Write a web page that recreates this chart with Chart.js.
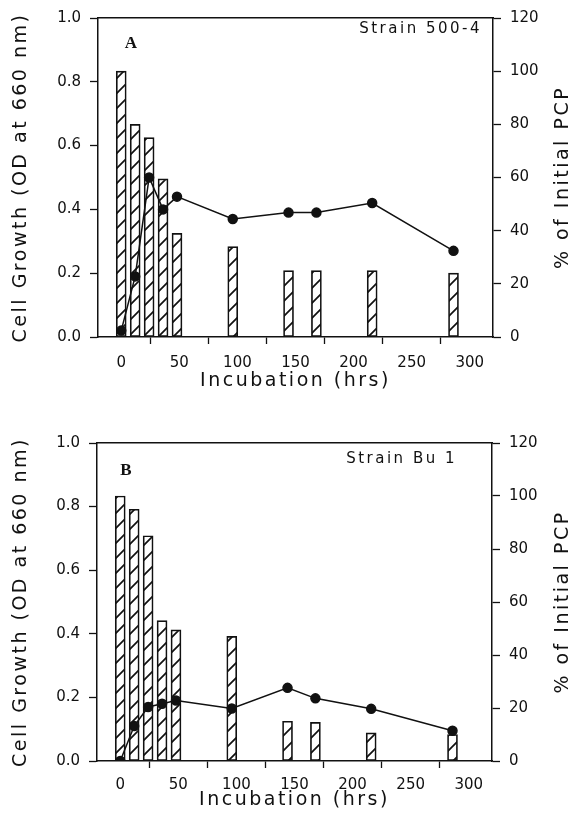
<!DOCTYPE html>
<html>
<head>
<meta charset="utf-8">
<script src="https://cdn.jsdelivr.net/npm/chart.js@4.4.0/dist/chart.umd.min.js"></script>
<style>
  html, body { margin: 0; padding: 0; background: #fff; }
  canvas { display: block; }
</style>
</head>
<body>
<canvas id="chartA" width="575" height="419"></canvas>
<canvas id="chartB" width="575" height="419"></canvas>
<script>
// sampling times (hrs)
const hours = [0, 12, 24, 36, 48, 96, 144, 168, 216, 286];

// panel A - strain 500-4
const pcpA = [100, 80, 75, 59.5, 39, 34, 25, 25, 25, 24];          // % of initial PCP (bars)
const growthA = [0.02, 0.19, 0.50, 0.40, 0.44, 0.37, 0.39, 0.39, 0.42, 0.27]; // OD 660 (line)

// panel B - strain Bu 1
const pcpB = [100, 95, 85, 53, 49.5, 47, 15, 14.6, 10.6, 10];
const growthB = [0.00, 0.11, 0.17, 0.18, 0.19, 0.165, 0.23, 0.197, 0.164, 0.095];

// tick labels
const xTicks = [0, 50, 100, 150, 200, 250, 300];
const odTicks = [0, 0.2, 0.4, 0.6, 0.8, 1.0];
const pcpTicks = [0, 20, 40, 60, 80, 100, 120];

const FONT = '"DejaVu Sans", sans-serif';
const INK = '#111';

// diagonal hatch fill for the bars
function hatchPattern() {
    const s = 15;
    const c = document.createElement('canvas');
    c.width = s;
    c.height = s;
    const g = c.getContext('2d');
    g.fillStyle = '#fff';
    g.fillRect(0, 0, s, s);
    g.strokeStyle = INK;
    g.lineWidth = 1.7;
    g.beginPath();
    g.moveTo(-2, s + 2); g.lineTo(s + 2, -2);
    g.moveTo(-2, 2); g.lineTo(2, -2);
    g.moveTo(s - 2, s + 2); g.lineTo(s + 2, s - 2);
    g.stroke();
    return g.createPattern(c, 'repeat');
}

// titles get wider letter spacing, tick labels none
const spacingPlugin = {
    id: 'spacing',
    beforeDraw(chart) { chart.ctx.letterSpacing = '2.5px'; },
    afterDatasetsDraw(chart) { chart.ctx.letterSpacing = '0px'; }
};

// panel letter, strain name and the right axis title (reads bottom to top)
const panelText = {
    id: 'panelText',
    afterDraw(chart, args, opts) {
        const { ctx, chartArea } = chart;
        ctx.save();
        ctx.fillStyle = INK;
        ctx.textBaseline = 'middle';

        ctx.letterSpacing = '0px';
        ctx.font = 'bold 17px "Liberation Serif", serif';
        ctx.textAlign = 'center';
        ctx.fillText(opts.letter, chartArea.left + opts.letterDx, chartArea.top + opts.letterDy);

        ctx.letterSpacing = '2.5px';
        ctx.font = '15px ' + FONT;
        ctx.textAlign = 'right';
        ctx.fillText(opts.strain, chartArea.right - opts.strainDx, chartArea.top + opts.strainDy);

        ctx.font = '19px ' + FONT;
        ctx.textAlign = 'center';
        ctx.translate(opts.rightTitleX, (chartArea.top + chartArea.bottom) / 2);
        ctx.rotate(-Math.PI / 2);
        ctx.fillText('% of Initial PCP', 0, 0);
        ctx.restore();
    }
};

function fixedTicks(list) {
    return scale => { scale.ticks = list.map(v => ({ value: v })); };
}

function makePanel(id, pcp, growth, box, text) {
    const ctx = document.getElementById(id).getContext('2d');
    return new Chart(ctx, {
        type: 'bar',
        data: {
            datasets: [{
                type: 'line',
                label: 'Cell growth',
                data: hours.map((h, i) => ({ x: h, y: growth[i] })),
                yAxisID: 'y',
                borderColor: INK,
                borderWidth: 1.5,
                pointRadius: 4.5,
                pointBackgroundColor: INK,
                pointBorderColor: INK,
                tension: 0,
                order: 0
            }, {
                label: '% of initial PCP',
                data: hours.map((h, i) => ({ x: h, y: pcp[i] })),
                yAxisID: 'y2',
                backgroundColor: hatchPattern(),
                borderColor: INK,
                borderWidth: 1.7,
                borderSkipped: false,
                barThickness: 10,
                order: 1
            }]
        },
        options: {
            responsive: false,
            animation: false,
            layout: { padding: 0 },
            plugins: {
                legend: { display: false },
                tooltip: { enabled: false },
                panelText: text
            },
            scales: {
                x: {
                    type: 'linear',
                    position: 'bottom',
                    min: -20,
                    max: 320,
                    offset: false,
                    afterBuildTicks: fixedTicks(xTicks),
                    afterFit: s => { s.height = box.xHeight; },
                    grid: { display: true, drawOnChartArea: false, drawTicks: true, tickLength: 7, color: INK, tickWidth: 1.3 },
                    border: { display: true, color: INK, width: 1.5 },
                    ticks: { z: 1, padding: box.xTickPad, color: INK, font: { family: FONT, size: 15 }, maxRotation: 0 },
                    title: {
                        display: true,
                        text: 'Incubation (hrs)',
                        color: INK,
                        font: { family: FONT, size: 19 },
                        padding: { top: 0, bottom: 27 }
                    }
                },
                xTop: {
                    type: 'linear',
                    position: 'top',
                    min: -20,
                    max: 320,
                    afterFit: s => { s.height = box.top; },
                    grid: { display: false },
                    border: { display: true, color: INK, width: 1.5 },
                    ticks: { display: false }
                },
                y: {
                    type: 'linear',
                    position: 'left',
                    min: 0,
                    max: 1,
                    afterBuildTicks: fixedTicks(odTicks),
                    afterFit: s => { s.width = box.left; },
                    grid: { display: true, drawOnChartArea: false, drawTicks: true, tickLength: 8, color: INK, tickWidth: 1.3 },
                    border: { display: true, color: INK, width: 1.5 },
                    ticks: {
                        z: 1,
                        padding: 9,
                        color: INK,
                        font: { family: FONT, size: 15 },
                        callback: v => v.toFixed(1)
                    },
                    title: {
                        display: true,
                        text: 'Cell Growth (OD at 660 nm)',
                        color: INK,
                        font: { family: FONT, size: 19 },
                        padding: { top: 10, bottom: 0 }
                    }
                },
                y2: {
                    type: 'linear',
                    position: 'right',
                    min: 0,
                    max: 120,
                    afterBuildTicks: fixedTicks(pcpTicks),
                    afterFit: s => { s.width = box.right; },
                    grid: { display: true, drawOnChartArea: false, drawTicks: true, tickLength: 8, color: INK, tickWidth: 1.3 },
                    border: { display: true, color: INK, width: 1.5 },
                    ticks: { z: 1, padding: 9, color: INK, font: { family: FONT, size: 15 } }
                }
            }
        },
        plugins: [spacingPlugin, panelText]
    });
}

makePanel('chartA', pcpA, growthA,
    { top: 17, left: 98, right: 82, xHeight: 82, xTickPad: 10 },
    { letter: 'A', letterDx: 33, letterDy: 26, strain: 'Strain 500-4', strainDx: 11, strainDy: 11, rightTitleX: 563 });

makePanel('chartB', pcpB, growthB,
    { top: 24, left: 97, right: 83, xHeight: 77, xTickPad: 8 },
    { letter: 'B', letterDx: 29, letterDy: 28, strain: 'Strain Bu 1', strainDx: 35, strainDy: 16, rightTitleX: 563 });
</script>
</body>
</html>
